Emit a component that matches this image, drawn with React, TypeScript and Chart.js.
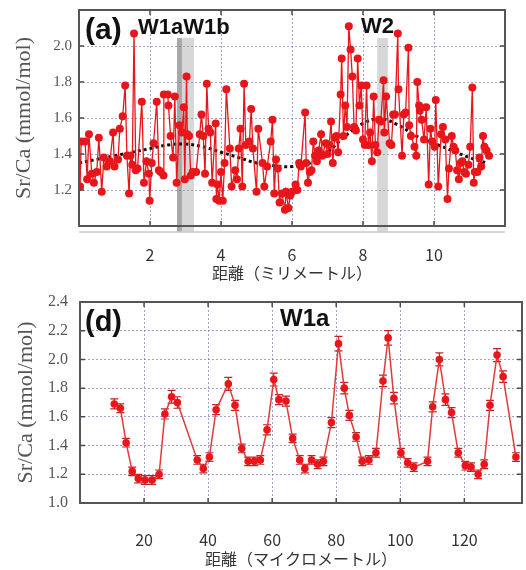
import React, { useEffect, useRef } from "react";
import { Chart, registerables } from "chart.js";
Chart.register(...registerables);

// ---------- Panel (a) data ----------
const xA = [0.03,0.06,0.17,0.23,0.28,0.36,0.42,0.5,0.56,0.64,0.7,0.78,0.87,0.96,1.0,1.1,1.15,1.23,1.3,1.35,1.41,1.45,1.5,1.55,1.6,1.65,1.77,1.83,1.9,1.97,1.99,2.05,2.1,2.19,2.25,2.3,2.38,2.39,2.5,2.52,2.58,2.65,2.7,2.75,2.83,2.9,2.95,2.98,3.03,3.05,3.1,3.15,3.2,3.3,3.4,3.45,3.5,3.55,3.6,3.65,3.7,3.75,3.85,3.87,3.9,3.95,4.0,4.05,4.1,4.15,4.25,4.3,4.4,4.45,4.5,4.55,4.6,4.65,4.7,4.8,4.85,4.9,5.0,5.05,5.17,5.22,5.3,5.4,5.45,5.5,5.55,5.6,5.65,5.72,5.8,5.83,5.9,5.95,6.0,6.1,6.15,6.2,6.25,6.37,6.4,6.45,6.5,6.55,6.6,6.65,6.7,6.75,6.82,6.85,6.95,7.0,7.05,7.1,7.15,7.2,7.25,7.3,7.37,7.4,7.45,7.5,7.55,7.6,7.65,7.7,7.75,7.8,7.85,7.9,7.95,8.0,8.05,8.1,8.15,8.2,8.25,8.3,8.35,8.4,8.45,8.5,8.58,8.6,8.65,8.75,8.8,8.85,8.9,8.98,9.0,9.1,9.15,9.2,9.28,9.3,9.35,9.45,9.5,9.53,9.58,9.6,9.65,9.72,9.78,9.85,9.9,9.95,10.02,10.05,10.12,10.2,10.25,10.32,10.38,10.42,10.5,10.55,10.6,10.65,10.7,10.75,10.8,10.85,10.9,10.97,11.02,11.08,11.12,11.15,11.22,11.28,11.33,11.38,11.42,11.48,11.55];
const yA = [1.22,1.47,1.47,1.26,1.51,1.29,1.24,1.3,1.49,1.19,1.38,1.33,1.36,1.52,1.33,1.37,1.54,1.61,1.78,1.39,1.18,1.39,1.34,2.07,1.31,1.32,1.69,1.24,1.36,1.29,1.14,1.35,1.46,1.69,1.31,1.3,1.28,1.73,1.73,1.67,1.5,1.38,1.72,1.24,1.56,1.52,1.66,1.26,1.83,1.51,1.5,1.28,1.3,1.3,1.51,1.62,1.5,1.29,1.79,1.54,1.52,1.24,1.57,1.15,1.23,1.14,1.3,1.14,1.35,1.76,1.43,1.22,1.31,1.26,1.43,1.54,1.22,1.79,1.45,1.47,1.65,1.43,1.19,1.54,1.35,1.22,1.33,1.47,1.59,1.18,1.37,1.32,1.13,1.18,1.09,1.19,1.1,1.17,1.19,1.23,1.2,1.35,1.33,1.63,1.35,1.24,1.3,1.31,1.47,1.39,1.36,1.42,1.51,1.39,1.46,1.4,1.45,1.58,1.35,1.49,1.5,1.41,1.73,1.93,1.5,1.67,1.55,2.11,1.98,1.83,1.55,1.53,1.93,1.67,1.78,1.48,1.45,1.78,1.45,1.52,1.36,1.72,1.45,1.41,1.59,1.58,1.81,1.52,1.72,1.46,1.45,1.62,1.62,2.07,1.76,1.39,1.62,1.63,1.99,1.56,1.5,1.44,1.39,1.8,1.67,1.64,1.59,1.48,1.66,1.23,1.54,1.47,1.44,1.7,1.22,1.51,1.55,1.48,1.15,1.32,1.5,1.44,1.42,1.31,1.26,1.35,1.36,1.3,1.29,1.34,1.44,1.77,1.24,1.3,1.3,1.38,1.33,1.5,1.44,1.42,1.39];
const trendX = [0,0.5,1,1.5,2,2.5,3,3.5,4,4.5,5,5.5,6,6.5,7,7.5,8,8.5,9,9.5,10,10.5,11,11.5];
const trendY = [1.35,1.37,1.39,1.41,1.43,1.45,1.455,1.44,1.41,1.38,1.35,1.335,1.33,1.35,1.41,1.5,1.57,1.595,1.56,1.5,1.46,1.42,1.38,1.35];
const bandFrom = [2.76, 2.9, 8.4];
const bandTo = [2.9, 3.24, 8.7];
const xTicksA = [2, 4, 6, 8, 10];
const yTicksA = [1.2, 1.4, 1.6, 1.8, 2.0];
const labelsA = ["(a)", "W1aW1b", "W2"];
const xTitleA = "距離（ミリメートル）";

// ---------- Panel (d) data ----------
const xD = [10.7,12.6,14.4,16.3,18.2,20.3,22.5,24.7,26.5,28.6,30.4,36.6,38.5,40.4,42.5,46.3,48.4,50.5,52.5,54.4,56.3,58.4,60.5,62.1,64.3,66.4,68.6,70.2,72.3,74.2,76.0,78.5,80.7,82.5,84.1,86.2,88.1,90.2,92.4,94.6,96.2,98.0,100.2,102.3,104.2,108.5,110.1,112.2,114.1,116.0,118.1,120.3,122.1,124.3,126.2,128.0,130.2,132.1,136.1];
const yD = [1.69,1.66,1.42,1.22,1.17,1.16,1.16,1.2,1.62,1.74,1.7,1.3,1.24,1.32,1.65,1.83,1.68,1.38,1.29,1.29,1.3,1.51,1.86,1.72,1.71,1.45,1.3,1.24,1.3,1.27,1.29,1.56,2.11,1.8,1.61,1.46,1.29,1.3,1.35,1.85,2.15,1.73,1.35,1.28,1.25,1.29,1.67,2.0,1.72,1.63,1.35,1.26,1.25,1.2,1.27,1.68,2.03,1.88,1.32];
const errD = [0.035,0.03,0.03,0.03,0.03,0.03,0.03,0.03,0.035,0.045,0.04,0.03,0.03,0.03,0.035,0.045,0.035,0.03,0.03,0.03,0.03,0.035,0.045,0.035,0.035,0.03,0.03,0.03,0.03,0.03,0.03,0.035,0.05,0.04,0.035,0.03,0.03,0.03,0.03,0.04,0.05,0.04,0.03,0.03,0.03,0.03,0.035,0.045,0.04,0.035,0.03,0.03,0.03,0.03,0.03,0.035,0.045,0.04,0.03];
const xTicksD = [20, 40, 60, 80, 100, 120];
const yTicksD = [1.0, 1.2, 1.4, 1.6, 1.8, 2.0, 2.2, 2.4];
const labelsD = ["(d)", "W1a"];
const xTitleD = "距離（マイクロメートル）";

const yTitle = "Sr/Ca (mmol/mol)";

const RED = "#e8161b";
const GRID = "rgba(85,85,175,0.55)";

const framePlugin = {
  id: "frame",
  afterDatasetsDraw(chart: any) {
    const { ctx, chartArea: a, scales } = chart;
    ctx.save();
    ctx.strokeStyle = "#4a4a4a";
    ctx.lineWidth = 1.5;
    const len = 5;
    ctx.beginPath();
    scales.x.ticks.forEach((t: any) => {
      const px = scales.x.getPixelForValue(t.value);
      ctx.moveTo(px, a.bottom); ctx.lineTo(px, a.bottom - len);
      ctx.moveTo(px, a.top); ctx.lineTo(px, a.top + len);
    });
    scales.y.ticks.forEach((t: any) => {
      const py = scales.y.getPixelForValue(t.value);
      ctx.moveTo(a.left, py); ctx.lineTo(a.left + len, py);
      ctx.moveTo(a.right, py); ctx.lineTo(a.right - len, py);
    });
    ctx.stroke();
    ctx.lineWidth = 2;
    ctx.strokeStyle = "#555";
    ctx.strokeRect(a.left, a.top, a.right - a.left, a.bottom - a.top);
    ctx.restore();
  },
};

function makeLabelPlugin(texts: string[], spots: { dx: number; dy: number; size: number }[]) {
  return {
    id: "panelLabels",
    afterDraw(chart: any) {
      const { ctx, chartArea: a } = chart;
      ctx.save();
      ctx.fillStyle = "#111";
      ctx.textBaseline = "alphabetic";
      ctx.textAlign = "left";
      texts.forEach((t, i) => {
        const s = spots[i];
        ctx.font = `bold ${s.size}px "Liberation Sans", Arial, sans-serif`;
        ctx.fillText(t, a.left + s.dx, a.top + s.dy);
      });
      ctx.restore();
    },
  };
}

const bandPlugin = {
  id: "bands",
  beforeDatasetsDraw(chart: any) {
    const { ctx, chartArea: a, scales } = chart;
    const colors = ["rgba(110,110,110,0.6)", "rgba(150,150,150,0.38)", "rgba(150,150,150,0.38)"];
    ctx.save();
    bandFrom.forEach((f, i) => {
      const x1 = scales.x.getPixelForValue(f);
      const x2 = scales.x.getPixelForValue(bandTo[i]);
      ctx.fillStyle = colors[i];
      ctx.fillRect(x1, a.top + 28, x2 - x1, a.bottom + 6 - (a.top + 28));
    });
    ctx.strokeStyle = "#c8c8c8";
    ctx.lineWidth = 1.5;
    ctx.beginPath();
    ctx.moveTo(a.left, a.bottom + 6);
    ctx.lineTo(a.right, a.bottom + 6);
    ctx.stroke();
    ctx.restore();
  },
};

const errorPlugin = {
  id: "errorBars",
  beforeDatasetsDraw(chart: any) {
    const { ctx, scales } = chart;
    ctx.save();
    ctx.strokeStyle = "#c62020";
    ctx.lineWidth = 1.2;
    ctx.beginPath();
    xD.forEach((xv, i) => {
      const px = scales.x.getPixelForValue(xv);
      const p1 = scales.y.getPixelForValue(yD[i] + errD[i]);
      const p2 = scales.y.getPixelForValue(yD[i] - errD[i]);
      ctx.moveTo(px, p1); ctx.lineTo(px, p2);
      ctx.moveTo(px - 4, p1); ctx.lineTo(px + 4, p1);
      ctx.moveTo(px - 4, p2); ctx.lineTo(px + 4, p2);
    });
    ctx.stroke();
    ctx.restore();
  },
};

function scalesFor(opts: {
  xMin: number; xMax: number; yMin: number; yMax: number;
  xTicks: number[]; yTicks: number[]; yWidth: number; xHeight: number;
  xTitle: string; yTitlePad: number; xTitlePad: number; xTickPad: number; yTickPad: number; yTickSize: number;
}) {
  return {
    x: {
      type: "linear",
      min: opts.xMin,
      max: opts.xMax,
      afterBuildTicks(s: any) { s.ticks = opts.xTicks.map((v) => ({ value: v })); },
      afterFit(s: any) { s.height = opts.xHeight; s.paddingLeft = 0; s.paddingRight = 0; },
      grid: { color: GRID, lineWidth: 1, drawTicks: false },
      border: { display: false, dash: [2, 2] },
      ticks: {
        padding: opts.xTickPad,
        color: "#333",
        font: { family: '"Noto Sans CJK JP", "Noto Sans", sans-serif', size: 16 },
        maxRotation: 0,
        callback: (v: any) => String(v),
      },
      title: {
        display: true,
        text: opts.xTitle,
        color: "#333",
        font: { family: '"Noto Sans CJK JP", sans-serif', size: 16 },
        padding: { top: 0, bottom: opts.xTitlePad },
      },
    },
    y: {
      type: "linear",
      min: opts.yMin,
      max: opts.yMax,
      afterBuildTicks(s: any) { s.ticks = opts.yTicks.map((v) => ({ value: v })); },
      afterFit(s: any) { s.width = opts.yWidth; s.paddingTop = 0; s.paddingBottom = 0; },
      grid: { color: GRID, lineWidth: 1, drawTicks: false },
      border: { display: false, dash: [2, 2] },
      ticks: {
        padding: opts.yTickPad,
        color: "#555",
        font: { family: '"Liberation Serif", "Times New Roman", serif', size: opts.yTickSize },
        callback: (v: any) => Number(v).toFixed(1),
      },
      title: {
        display: true,
        text: yTitle,
        color: "#555",
        font: { family: '"Liberation Serif", "Times New Roman", serif', size: 22 },
        padding: { top: opts.yTitlePad, bottom: 0 },
      },
    },
  };
}

function PanelA() {
  const ref = useRef<HTMLCanvasElement>(null);
  useEffect(() => {
    const chart = new Chart(ref.current!, {
      type: "scatter",
      data: {
        datasets: [
          {
            data: xA.map((x, i) => ({ x, y: yA[i] })),
            showLine: true,
            borderColor: RED,
            borderWidth: 1.3,
            pointRadius: 4,
            pointBackgroundColor: RED,
            pointBorderWidth: 0,
          },
          {
            data: trendX.map((x, i) => ({ x, y: trendY[i] })),
            showLine: true,
            borderColor: "#111",
            borderWidth: 3,
            borderDash: [3, 3],
            pointRadius: 0,
            tension: 0.4,
          },
        ],
      } as any,
      options: {
        animation: false,
        responsive: false,
        devicePixelRatio: 1,
        layout: { padding: { left: 0, right: 21, top: 10, bottom: 0 } },
        plugins: { legend: { display: false }, tooltip: { enabled: false } },
        scales: scalesFor({
          xMin: 0, xMax: 12, yMin: 1.0, yMax: 2.2,
          xTicks: xTicksA, yTicks: yTicksA, yWidth: 79, xHeight: 64,
          xTitle: xTitleA, yTitlePad: 11, xTitlePad: 7, xTickPad: 19, yTickPad: 7, yTickSize: 15,
        }) as any,
      },
      plugins: [
        bandPlugin,
        framePlugin,
        makeLabelPlugin(labelsA, [
          { dx: 6, dy: 29, size: 30 },
          { dx: 59, dy: 24, size: 22 },
          { dx: 282, dy: 23, size: 22 },
        ]),
      ],
    });
    return () => chart.destroy();
  }, []);
  return <canvas ref={ref} width={526} height={290} style={{ display: "block" }} />;
}

function PanelD() {
  const ref = useRef<HTMLCanvasElement>(null);
  useEffect(() => {
    const chart = new Chart(ref.current!, {
      type: "scatter",
      data: {
        datasets: [
          {
            data: xD.map((x, i) => ({ x, y: yD[i] })),
            showLine: true,
            borderColor: "#e23a3a",
            borderWidth: 1.5,
            pointRadius: 3.8,
            pointBackgroundColor: RED,
            pointBorderWidth: 0,
          },
        ],
      } as any,
      options: {
        animation: false,
        responsive: false,
        devicePixelRatio: 1,
        layout: { padding: { left: 0, right: 1, top: 12, bottom: 0 } },
        plugins: { legend: { display: false }, tooltip: { enabled: false } },
        scales: scalesFor({
          xMin: 0, xMax: 138, yMin: 1.0, yMax: 2.4,
          xTicks: xTicksD, yTicks: yTicksD, yWidth: 80, xHeight: 67,
          xTitle: xTitleD, yTitlePad: 13, xTitlePad: 1, xTickPad: 27, yTickPad: 12, yTickSize: 16,
        }) as any,
      },
      plugins: [
        errorPlugin,
        framePlugin,
        makeLabelPlugin(labelsD, [
          { dx: 5, dy: 29, size: 29 },
          { dx: 200, dy: 24, size: 24 },
        ]),
      ],
    });
    return () => chart.destroy();
  }, []);
  return <canvas ref={ref} width={526} height={280} style={{ display: "block" }} />;
}

export default function App() {
  return (
    <div style={{ position: "absolute", left: 0, top: 0, width: 526, height: 570, background: "#fff" }}>
      <PanelA />
      <PanelD />
    </div>
  );
}
